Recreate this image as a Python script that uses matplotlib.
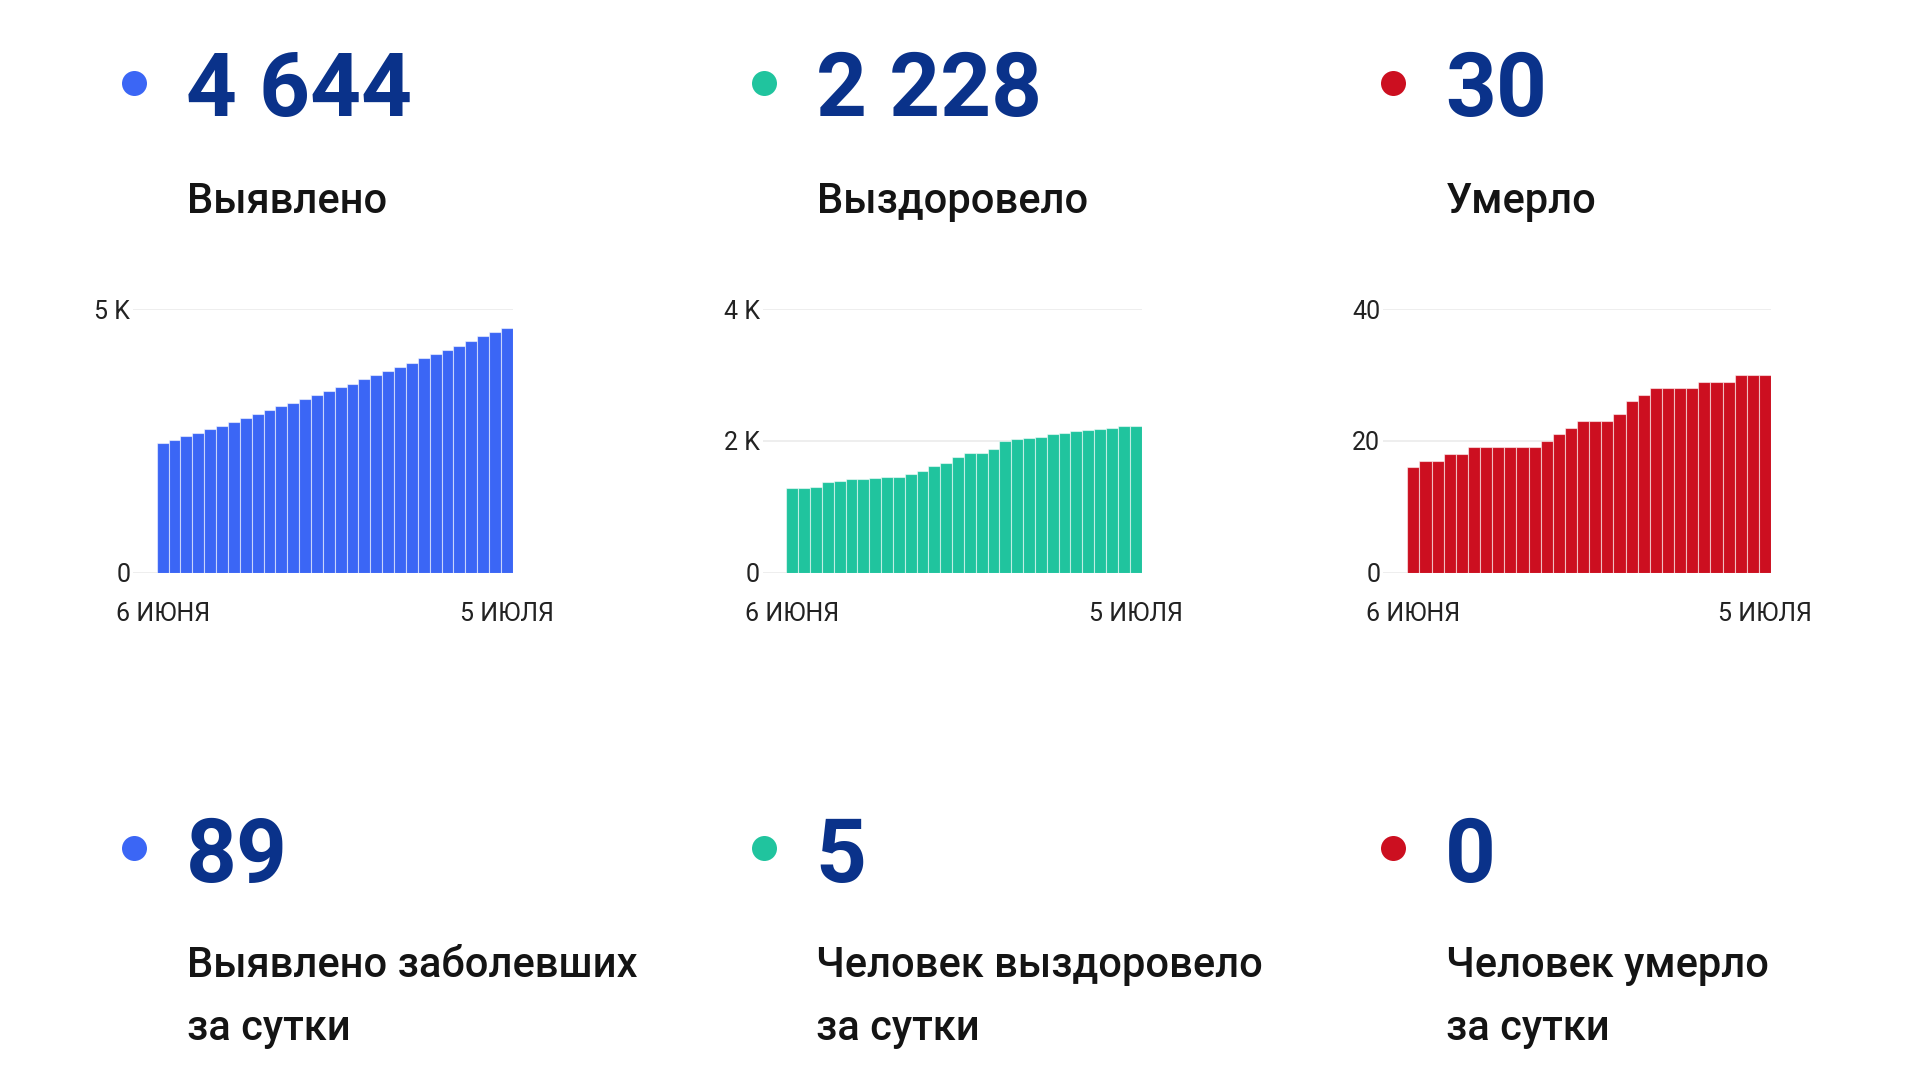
import matplotlib
matplotlib.use("Agg")
import matplotlib.pyplot as plt
from matplotlib.lines import Line2D
import numpy as np

plt.rcParams['font.family'] = ['Roboto', 'DejaVu Sans']

# ---- data ----
days = list(range(30))  # 6 June .. 5 July
date_labels = ["6 ИЮНЯ", "5 ИЮЛЯ"]

identified = [2456, 2525, 2589, 2652, 2728, 2791, 2861, 2930, 3006, 3076,
              3152, 3215, 3291, 3367, 3443, 3519, 3582, 3665, 3747, 3823,
              3892, 3981, 4063, 4139, 4222, 4297, 4386, 4481, 4555, 4644]
recovered = [1286, 1291, 1301, 1372, 1392, 1423, 1425, 1443, 1445, 1458,
             1499, 1549, 1625, 1671, 1752, 1818, 1823, 1883, 2000, 2035,
             2040, 2056, 2106, 2121, 2152, 2167, 2187, 2202, 2223, 2228]
deaths = [16, 17, 17, 18, 18, 19, 19, 19, 19, 19,
          19, 20, 21, 22, 23, 23, 23, 24, 26, 27,
          28, 28, 28, 28, 29, 29, 29, 30, 30, 30]

totals = ["4 644", "2 228", "30"]
total_labels = ["Выявлено", "Выздоровело", "Умерло"]
daily = ["89", "5", "0"]
daily_labels = [["Выявлено заболевших", "за сутки"],
                ["Человек выздоровело", "за сутки"],
                ["Человек умерло", "за сутки"]]

y_ticks = [[0, 5000], [0, 2000, 4000], [0, 20, 40]]
y_ticklabels = [["0", "5 K"], ["0", "2 K", "4 K"], ["0", "20", "40"]]
y_max = [5000, 4000, 40]

colors = ["#3b66f5", "#20c49e", "#cc0f20"]
num_color = "#0a328a"
text_color = "#141414"

W, H = 1920, 1080
fig = plt.figure(figsize=(W / 100, H / 100), dpi=100, facecolor="white")

def fx(px):
    return px / W

def fy(py):
    return 1 - py / H

col_dx = [0, 629.5, 1259]
series = [identified, recovered, deaths]
axes_lr = [(133, 512.7), (762.7, 1141.5), (1383, 1771)]
ax_top, ax_bot = 309, 572.7

for i in range(3):
    dx = col_dx[i]
    # dots
    for cy in (83, 848):
        fig.add_artist(Line2D([fx(134 + dx)], [fy(cy)], marker='o', markersize=18,
                              color=colors[i], markeredgewidth=0,
                              transform=fig.transFigure))
    # totals
    fig.text(fx(186 + dx), fy(116), totals[i], fontsize=64, fontweight='bold',
             color=num_color, va='baseline', ha='left')
    fig.text(fx(187 + dx), fy(213), total_labels[i], fontsize=30, fontweight='medium',
             color=text_color, va='baseline', ha='left')
    # daily
    fig.text(fx(186 + dx), fy(882), daily[i], fontsize=64, fontweight='bold',
             color=num_color, va='baseline', ha='left')
    fig.text(fx(187 + dx), fy(977), daily_labels[i][0], fontsize=30, fontweight='medium',
             color=text_color, va='baseline', ha='left')
    fig.text(fx(187 + dx), fy(1040), daily_labels[i][1], fontsize=30, fontweight='medium',
             color=text_color, va='baseline', ha='left')

    # chart
    l, r = axes_lr[i]
    ax = fig.add_axes([fx(l), fy(ax_bot), (r - l) / W, (ax_bot - ax_top) / H])
    ax.set_facecolor("none")
    for yv in y_ticks[i]:
        ax.axhline(yv, color="#ebebeb", lw=1.2, zorder=0)
    ax.bar(days, series[i], width=1.0, color=colors[i],
           edgecolor=(1, 1, 1, 0.55), linewidth=0.8, zorder=2)
    ax.set_xlim(-2.5, 29.5)
    ax.set_ylim(0, y_max[i])
    for s in ax.spines.values():
        s.set_visible(False)
    ax.set_yticks(y_ticks[i])
    ax.set_yticklabels(y_ticklabels[i], fontsize=18, color="#222222")
    ax.set_xticks([days[0], days[-1]])
    ax.set_xticklabels(date_labels, fontsize=18, color="#222222")
    ax.tick_params(axis='y', length=0, pad=2)
    ax.tick_params(axis='x', length=0, pad=21)

fig.savefig("out.png", dpi=100, facecolor="white")
